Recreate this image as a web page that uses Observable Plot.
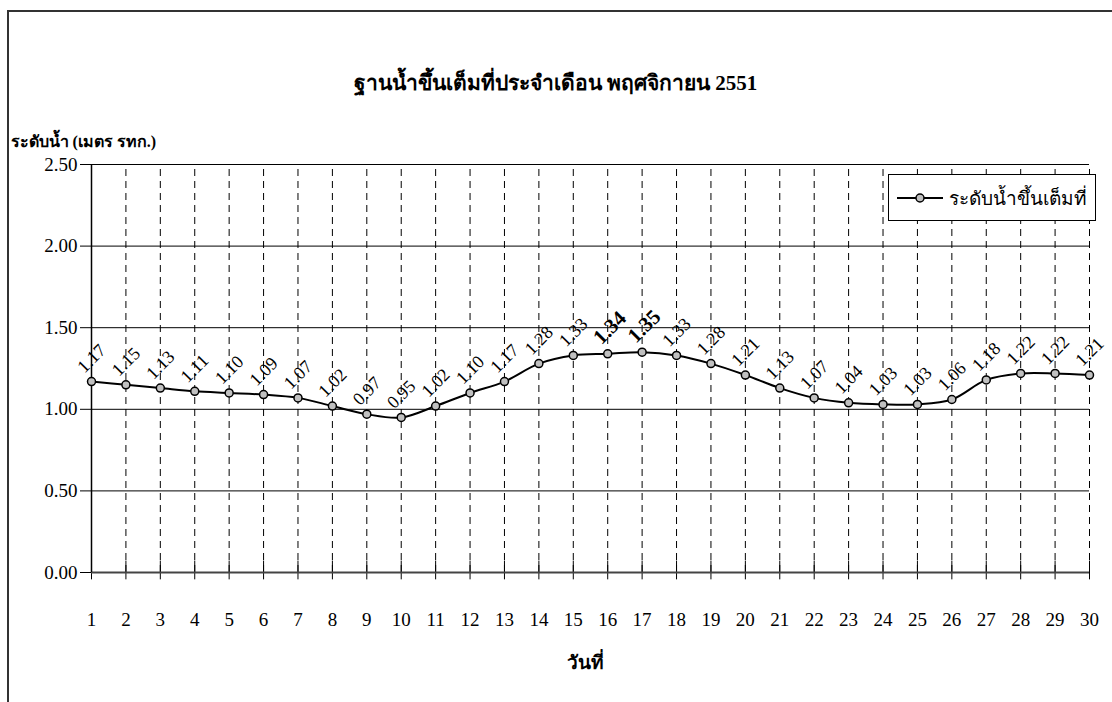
<!DOCTYPE html>
<html>
<head>
<meta charset="utf-8">
<script src="https://cdn.jsdelivr.net/npm/d3@7"></script>
<script src="https://cdn.jsdelivr.net/npm/@observablehq/plot@0.6"></script>
<style>
  html, body { margin: 0; padding: 0; background: #fff; }
  #wrap { position: relative; width: 1112px; height: 702px; overflow: hidden; font-family: 'Liberation Serif', serif; }
  #frame { position: absolute; left: 7px; top: 10px; width: 1200px; height: 800px; border-left: 2px solid #333; border-top: 2px solid #333; }
  #chart { position: absolute; left: 0; top: 0; }
  #legend { position: absolute; left: 888px; top: 174px; width: 208px; height: 47px; box-sizing: border-box; border: 1px solid #000; background: #fff; display: flex; align-items: center; font-size: 19px; white-space: nowrap; }
  #legend svg { margin-left: 8px; margin-right: 6px; flex: none; }
</style>
</head>
<body>
<div id="wrap">
  <div id="frame"></div>
  <div id="chart"></div>
  <div id="legend">
    <svg width="46" height="12"><line x1="0" y1="6" x2="46" y2="6" stroke="#000" stroke-width="2"/><circle cx="23" cy="6" r="4" fill="#c0c0c0" stroke="#000" stroke-width="1.5"/></svg>
    <span>ระดับน้ำขึ้นเต็มที่</span>
  </div>
</div>
<script>
const days = [1,2,3,4,5,6,7,8,9,10,11,12,13,14,15,16,17,18,19,20,21,22,23,24,25,26,27,28,29,30];
const levels = [1.17,1.15,1.13,1.11,1.10,1.09,1.07,1.02,0.97,0.95,1.02,1.10,1.17,1.28,1.33,1.34,1.35,1.33,1.28,1.21,1.13,1.07,1.04,1.03,1.03,1.06,1.18,1.22,1.22,1.21];
const emphasizedDays = [16, 17];
const yTicks = [0, 0.5, 1.0, 1.5, 2.0, 2.5];
const title = "ฐานน้ำขึ้นเต็มที่ประจำเดือน พฤศจิกายน 2551";
const yLabel = "ระดับน้ำ (เมตร รทก.)";
const xLabel = "วันที่";

const data = days.map((d, i) => ({day: d, level: levels[i], bold: emphasizedDays.includes(d)}));
const ff = "Liberation Serif";

const chart = Plot.plot({
  width: 1112,
  height: 702,
  marginLeft: 91,
  marginRight: 23,
  marginTop: 164,
  marginBottom: 130,
  style: {fontFamily: "'Liberation Serif', serif", fontSize: "18px"},
  x: {type: "linear", domain: [1, 30]},
  y: {domain: [0, 2.5]},
  marks: [
    Plot.ruleX(days.filter(d => d > 1), {x: d => d, y1: 0, y2: 2.5, stroke: "#000", strokeWidth: 1, strokeDasharray: "7,5"}),
    Plot.ruleX(days, {x: d => d, y1: -0.045, y2: 0.07, stroke: "#000", strokeWidth: 1}),
    Plot.ruleY(yTicks.filter(v => v > 0), {stroke: "#000", strokeWidth: 1}),
    Plot.ruleY([0], {stroke: "#444", strokeWidth: 2}),
    Plot.ruleX([1], {y1: 0, y2: 2.5, stroke: "#000", strokeWidth: 1.5}),
    Plot.axisY({ticks: yTicks, tickFormat: d3.format(".2f"), tickSize: 11, tickPadding: 3, fontSize: 19, fontFamily: ff, label: null, stroke: "#000"}),
    Plot.axisX({ticks: days, tickFormat: d => String(d), tickSize: 0, tickPadding: 40, fontSize: 19, fontFamily: ff, label: null}),
    Plot.line(data, {x: "day", y: "level", curve: "catmull-rom", stroke: "#000", strokeWidth: 2}),
    Plot.dot(data, {x: "day", y: "level", r: 4, fill: "#c0c0c0", stroke: "#000", strokeWidth: 1.5}),
    Plot.text(data.filter(d => !d.bold), {x: "day", y: "level", text: d => d.level.toFixed(2), rotate: -45, textAnchor: "start", dx: -11, dy: -12, fontSize: 18, fontFamily: ff, fill: "#000"}),
    Plot.text(data.filter(d => d.bold), {x: "day", y: "level", text: d => d.level.toFixed(2), rotate: -45, textAnchor: "start", dx: -11, dy: -13, fontSize: 21, fontWeight: "bold", fontFamily: ff, fill: "#000"}),
    Plot.text([title], {frameAnchor: "top", dx: -35, dy: -89, fontSize: 21, fontWeight: "bold", fontFamily: ff, fill: "#000"}),
    Plot.text([yLabel], {frameAnchor: "top-left", textAnchor: "start", dx: -81, dy: -29, fontSize: 16, fontWeight: "bold", fontFamily: ff, fill: "#000"}),
    Plot.text([xLabel], {frameAnchor: "bottom", dx: -5, dy: 96, fontSize: 19, fontWeight: "bold", fontFamily: ff, fill: "#000"})
  ]
});
document.getElementById("chart").appendChild(chart);
</script>
</body>
</html>
